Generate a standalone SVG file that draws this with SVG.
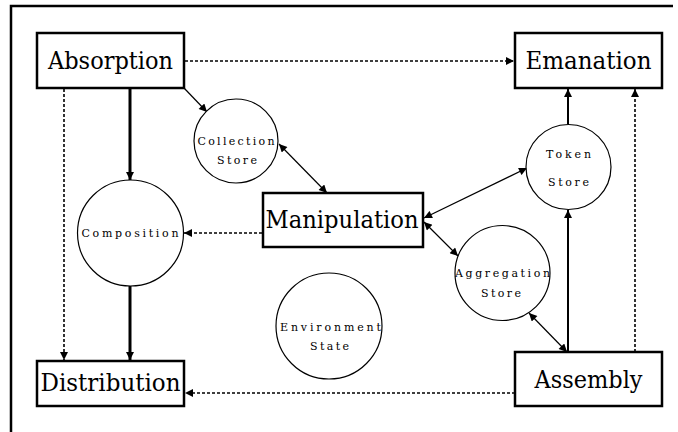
<svg xmlns="http://www.w3.org/2000/svg" width="678" height="432" viewBox="0 0 678 432">
  <style>
    .box { fill: #fff; stroke: #000; stroke-width: 2.5; }
    .circ { fill: #fff; stroke: #000; stroke-width: 1.2; }
    text { fill: #000; text-anchor: middle; }
    .big { font-family: "DejaVu Serif", "Liberation Serif", serif; font-size: 25px; }
    .small { font-family: "DejaVu Serif", "Liberation Serif", serif; font-size: 11px; }
    .thick { stroke: #000; stroke-width: 3; fill: none; }
    .med { stroke: #000; stroke-width: 2; fill: none; }
    .thin { stroke: #000; stroke-width: 1.2; fill: none; }
    .dot { stroke: #000; stroke-width: 1.6; stroke-dasharray: 3 2; fill: none; }
  </style>
  <defs>
    <marker id="arr" viewBox="0 0 10 10" refX="10" refY="5" markerWidth="9" markerHeight="8" markerUnits="userSpaceOnUse" orient="auto-start-reverse">
      <path d="M0,0 L10,5 L0,10 Z" fill="#000"/>
    </marker>
  </defs>

  <rect width="678" height="432" fill="#fff"/>
  <!-- frame -->
  <path d="M11,432 V6 H673" fill="none" stroke="#000" stroke-width="2.5"/>

  <g id="connectors">
    <line class="dot" x1="185" y1="61" x2="514" y2="61" marker-end="url(#arr)"/>
    <line class="dot" x1="64" y1="89" x2="64" y2="360" marker-end="url(#arr)"/>
    <line class="thick" x1="130" y1="89" x2="130" y2="180" marker-end="url(#arr)"/>
    <line class="thick" x1="130" y1="286" x2="130" y2="360" marker-end="url(#arr)"/>
    <line class="thin" x1="184" y1="88" x2="207" y2="112" marker-end="url(#arr)"/>
    <line class="thin" x1="279" y1="144" x2="327" y2="193" marker-start="url(#arr)" marker-end="url(#arr)"/>
    <line class="dot" x1="262" y1="233" x2="184" y2="233" marker-end="url(#arr)"/>
    <line class="thin" x1="424" y1="218" x2="527" y2="168" marker-start="url(#arr)" marker-end="url(#arr)"/>
    <line class="thin" x1="424" y1="222" x2="458" y2="256" marker-start="url(#arr)" marker-end="url(#arr)"/>
    <line class="thin" x1="529" y1="313" x2="567" y2="352" marker-start="url(#arr)" marker-end="url(#arr)"/>
    <line class="med" x1="568" y1="352" x2="568" y2="210" marker-end="url(#arr)"/>
    <line class="med" x1="568" y1="124" x2="568" y2="89" marker-end="url(#arr)"/>
    <line class="dot" x1="635" y1="352" x2="635" y2="89" marker-end="url(#arr)"/>
    <line class="dot" x1="515" y1="393" x2="185" y2="393" marker-end="url(#arr)"/>
  </g>

  <g id="absorption">
    <rect class="box" x="37" y="33" width="147" height="55"/>
    <text class="big" x="110.5" y="69" textLength="125" lengthAdjust="spacingAndGlyphs">Absorption</text>
  </g>
  <g id="emanation">
    <rect class="box" x="515" y="33" width="147" height="55"/>
    <text class="big" x="588.5" y="69" textLength="126" lengthAdjust="spacingAndGlyphs">Emanation</text>
  </g>
  <g id="distribution">
    <rect class="box" x="37" y="361" width="147" height="45"/>
    <text class="big" x="110.5" y="391" textLength="140" lengthAdjust="spacingAndGlyphs">Distribution</text>
  </g>
  <g id="assembly">
    <rect class="box" x="515" y="352" width="147" height="54"/>
    <text class="big" x="588.5" y="388" textLength="108" lengthAdjust="spacingAndGlyphs">Assembly</text>
  </g>
  <g id="manipulation">
    <rect class="box" x="263" y="193" width="160" height="54"/>
    <text class="big" x="342" y="228" textLength="153" lengthAdjust="spacingAndGlyphs">Manipulation</text>
  </g>

  <g id="collection-store">
    <circle class="circ" cx="236" cy="141" r="42"/>
    <text class="small" x="236" y="145" textLength="77" lengthAdjust="spacing">Collection</text>
    <text class="small" x="237" y="164" textLength="40" lengthAdjust="spacing">Store</text>
  </g>
  <g id="composition">
    <circle class="circ" cx="130.5" cy="233" r="53"/>
    <text class="small" x="130" y="237" textLength="97" lengthAdjust="spacing">Composition</text>
  </g>
  <g id="token-store">
    <circle class="circ" cx="568.5" cy="167" r="42.5"/>
    <text class="small" x="568.5" y="158" textLength="45" lengthAdjust="spacing">Token</text>
    <text class="small" x="568.5" y="186" textLength="41" lengthAdjust="spacing">Store</text>
  </g>
  <g id="aggregation-store">
    <circle class="circ" cx="502.5" cy="273" r="47.5"/>
    <text class="small" x="502.5" y="277" textLength="95" lengthAdjust="spacing">Aggregation</text>
    <text class="small" x="501" y="297" textLength="40" lengthAdjust="spacing">Store</text>
  </g>
  <g id="environment-state">
    <circle class="circ" cx="329" cy="326" r="53"/>
    <text class="small" x="330.5" y="331" textLength="101" lengthAdjust="spacing">Environment</text>
    <text class="small" x="329.5" y="350" textLength="39" lengthAdjust="spacing">State</text>
  </g>
</svg>
